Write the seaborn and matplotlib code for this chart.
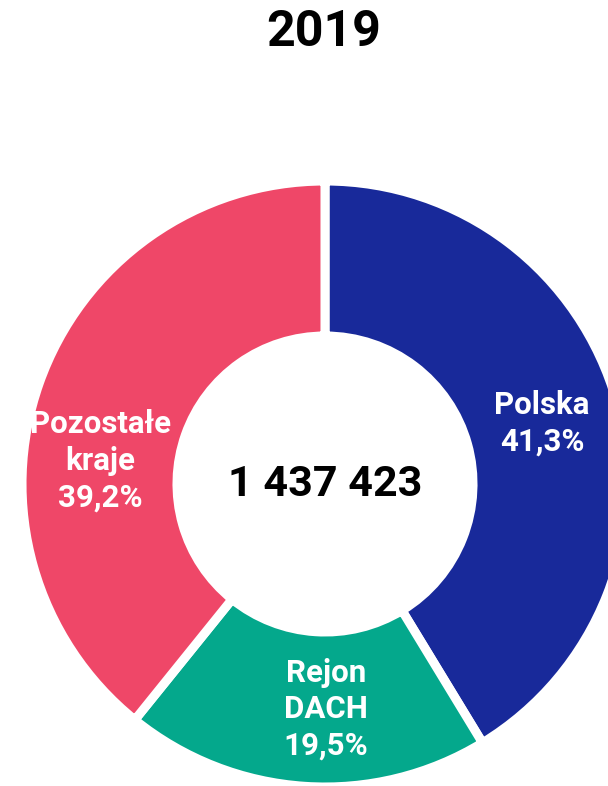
import numpy as np
import matplotlib
matplotlib.use("Agg")
import matplotlib.pyplot as plt
import seaborn as sns

# ---- data ----
title = "2019"
total_label = "1 437 423"
categories = ["Polska", "Rejon\nDACH", "Pozostałe\nkraje"]
shares = [41.3, 19.5, 39.2]
pct_labels = ["41,3%", "19,5%", "39,2%"]
colors = ["#18299A", "#04A88C", "#EF4768"]

sns.set_theme(style="white")
plt.rcParams["font.family"] = ["Roboto", "DejaVu Sans"]

W, H = 608, 786
fig = plt.figure(figsize=(W / 100, H / 100), dpi=100)
ax = fig.add_axes([0, 0, 1, 1])

cx, cy = 325.0, H - 484
R_out, R_in = 303, 148
width = R_out - R_in

wedges, _ = ax.pie(
    shares,
    colors=sns.color_palette(colors),
    startangle=90,
    counterclock=False,
    radius=R_out,
    center=(cx, cy),
    wedgeprops=dict(width=width, edgecolor="white", linewidth=6.5),
)
ax.set_xlim(0, W)
ax.set_ylim(0, H)
ax.set_aspect("equal")
ax.axis("off")

# labels inside the ring (small angular nudges for layout)
label_nudge_deg = [0, 4, 13.5]
r_lab = (R_out + R_in) / 2
for w, cat, pct, nudge in zip(wedges, categories, pct_labels, label_nudge_deg):
    mid = np.deg2rad((w.theta1 + w.theta2) / 2 + nudge)
    x = cx + r_lab * np.cos(mid)
    y = cy + r_lab * np.sin(mid)
    ax.text(x, y, f"{cat}\n{pct}", ha="center", va="center", color="white",
            fontsize=22.5, fontweight="bold", linespacing=1.27)

ax.text(cx, cy, total_label, ha="center", va="center", color="black",
        fontsize=31, fontweight="bold")

fig.text(324 / W, 1 - 33 / H, title, ha="center", va="center", color="black",
         fontsize=36, fontweight="bold")

fig.savefig("out.png", dpi=100, facecolor="white")
